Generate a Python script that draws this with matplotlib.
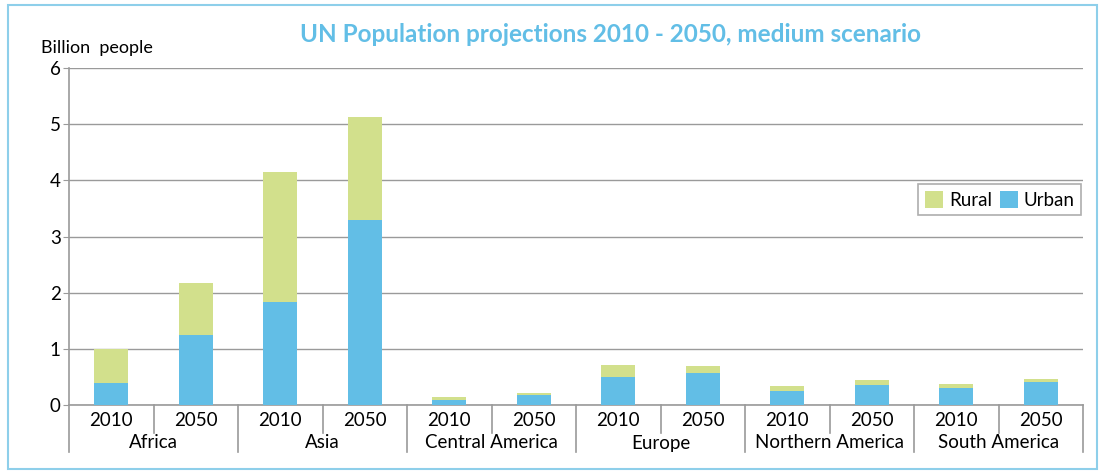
import numpy as np
import matplotlib.pyplot as plt
from matplotlib.patches import Rectangle
import matplotlib.transforms as mtransforms

plt.rcParams['font.family'] = ['Lato', 'DejaVu Sans']

regions = ['Africa', 'Asia', 'Central America', 'Europe', 'Northern America', 'South America']
years = ['2010', '2050']
urban = [0.39, 1.25, 1.83, 3.29, 0.09, 0.18, 0.50, 0.57, 0.25, 0.36, 0.30, 0.41]
total = [1.00, 2.17, 4.15, 5.12, 0.14, 0.21, 0.72, 0.70, 0.33, 0.44, 0.37, 0.46]
rural = [t - u for t, u in zip(total, urban)]

blue = '#62BEE6'
green = '#D2E08C'
grid_col = '#9A9A9A'

fig = plt.figure(figsize=(11.04, 4.72), dpi=100)
ax = fig.add_axes([69 / 1104, 1 - 405 / 472, 1014 / 1104, 337 / 472])

x = np.arange(len(urban))
ax.bar(x, urban, width=0.4, color=blue, label='Urban', zorder=3)
ax.bar(x, rural, width=0.4, bottom=urban, color=green, label='Rural', zorder=3)

ax.set_xlim(-0.5, len(urban) - 0.5)
ax.set_ylim(0, 6)
ax.set_yticks(range(7))
ax.tick_params(axis='y', labelsize=13.5, length=4, color=grid_col, pad=2)
ax.set_xticks([])
ax.grid(axis='y', color=grid_col, linewidth=1, zorder=0)
for s in ['top', 'right']:
    ax.spines[s].set_visible(False)
ax.spines['left'].set_color(grid_col)
ax.spines['bottom'].set_color(grid_col)
ax.spines['left'].set_linewidth(1.2)
ax.spines['bottom'].set_linewidth(1.2)

# two-level category axis
trans = mtransforms.blended_transform_factory(ax.transData, ax.transAxes)
px = 1 / 337
for i in range(len(urban)):
    ax.text(i, -15 * px, years[i % 2], transform=trans, ha='center', va='center',
            fontsize=13.5)
for i in range(len(urban) + 1):
    bound = i - 0.5
    low = -47 * px if i % 2 == 0 else -28 * px
    ax.plot([bound, bound], [0, low], transform=trans, color=grid_col,
            linewidth=1.2, clip_on=False)
for j, name in enumerate(regions):
    ax.text(2 * j + 0.5, -38 * px, name, transform=trans, ha='center', va='center',
            fontsize=13.5)

fig.text(97 / 1104, 1 - 48 / 472, 'Billion  people', ha='center', va='center',
         fontsize=13)

handles, labels = ax.get_legend_handles_labels()
leg = ax.legend(handles[::-1], labels[::-1], ncol=2, loc='upper right',
                bbox_to_anchor=(0.9985, 0.655), fontsize=13.5, frameon=True,
                fancybox=False, handlelength=1.0, handleheight=1.0,
                handletextpad=0.3, columnspacing=0.4, borderpad=0.35,
                borderaxespad=0)
leg.get_frame().set_edgecolor(grid_col)
leg.get_frame().set_linewidth(1.2)

fig.text(611 / 1104, 1 - 34 / 472, 'UN Population projections 2010 - 2050, medium scenario',
         ha='center', va='center', fontsize=17.5, fontweight='bold', color='#62BEE6')

fig.patches.append(Rectangle((8 / 1104, 3 / 472), 1089 / 1104, 464 / 472,
                             transform=fig.transFigure, fill=False,
                             edgecolor='#8ECFEA', linewidth=1.5))

fig.savefig('out.png', dpi=100)
